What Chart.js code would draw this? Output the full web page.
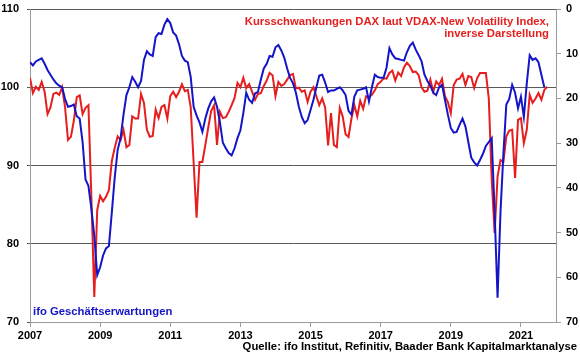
<!DOCTYPE html>
<html>
<head>
<meta charset="utf-8">
<script src="https://cdn.jsdelivr.net/npm/chart.js@4"></script>
<style>
  html, body { margin: 0; padding: 0; background: #fff; }
  #wrap { width: 580px; height: 359px; }
</style>
</head>
<body>
<div id="wrap"><canvas id="chart" width="580" height="359"></canvas></div>
<script>
// monthly values, first entry = Jan 2007
const START_YEAR = 2007;
const END_MONTH = 180; // Jan 2022, right edge of the plot

// ifo Geschaeftserwartungen (left axis)
const ifoValues = [
  103.2, 102.8, 103.3, 103.5, 103.7, 103.0, 102.2, 101.6, 101.0, 100.5, 100.2, 100.0,
  98.5, 97.5, 97.6, 97.8, 96.3, 96.0, 93.0, 88.2, 87.4, 84.5, 81.0, 76.0,
  77.0, 78.5, 79.4, 79.7, 84.0, 88.5, 92.0, 93.5, 96.5, 99.0, 100.0, 101.3,
  100.7, 100.0, 100.8, 103.5, 104.6, 104.2, 104.0, 106.4, 106.9, 106.8, 108.0, 108.7,
  108.2, 107.0, 106.6, 105.5, 104.0, 103.4, 103.2, 101.3, 97.5, 96.4, 95.5, 94.3,
  96.0, 97.3, 98.2, 98.7, 97.5, 95.5, 92.9, 92.2, 91.6, 91.3, 92.2, 93.5,
  94.5, 96.7, 99.3, 98.4, 98.0, 99.2, 99.4, 101.0, 102.4, 103.0, 104.0, 103.9,
  105.1, 105.4, 104.7, 103.8, 102.4, 101.2, 100.5, 99.3, 97.5, 96.2, 95.4, 95.8,
  97.1, 98.4, 100.0, 101.5, 101.6, 100.6, 99.4, 99.6, 99.6, 99.8, 100.0, 99.6,
  99.0, 97.0, 96.5, 98.8, 99.6, 99.7, 99.8, 100.0, 98.2, 100.0, 101.6, 101.3,
  101.2, 101.2, 102.5, 105.0, 104.2, 103.7, 103.6, 103.5, 103.4, 104.5, 105.3, 105.7,
  104.8, 104.1, 103.3, 101.6, 100.8, 100.2, 99.3, 99.0, 100.0, 100.3, 98.4, 96.5,
  94.8, 94.2, 94.3, 95.2, 96.0, 95.0, 93.0, 91.0, 90.4, 90.0, 90.7, 91.5,
  92.5, 93.0, 93.5, 84.0, 73.1, 84.0, 91.5, 97.8, 98.5, 100.3, 99.3, 97.3,
  98.8, 96.2, 100.5, 104.1, 103.5, 103.7, 103.2, 101.6, 100.0
];

// VDAX-New (right axis, reversed)
const vdaxValues = [
  15.4, 18.8, 17.4, 18.1, 16.3, 18.5, 23.5, 22.0, 19.0, 18.7, 19.2, 17.5,
  22.0, 29.3, 28.6, 25.0, 19.7, 19.3, 23.5, 22.1, 21.5, 42.0, 64.4, 45.0,
  41.8, 43.0, 42.0, 40.5, 34.0, 31.0, 28.5, 29.3, 27.0, 30.9, 30.4, 24.0,
  24.5, 24.5, 19.0, 21.0, 27.0, 28.6, 28.4, 22.5, 24.4, 21.9, 21.5, 24.5,
  19.5, 18.5, 19.7, 18.5, 16.8, 18.4, 18.1, 22.0, 34.4, 46.7, 34.2, 34.2,
  30.4, 26.5, 22.8, 21.5, 30.4, 23.0, 24.4, 24.2, 23.0, 21.5, 19.9, 16.5,
  17.5, 15.4, 17.7, 16.8, 18.5, 20.3, 19.0, 18.8, 17.2, 16.0, 14.3, 14.8,
  19.5, 16.3, 17.2, 16.8, 15.8, 14.8, 14.5, 17.8, 17.6, 18.5, 18.2, 20.8,
  18.5, 17.5, 19.5, 21.5, 20.0, 22.0, 30.5, 23.3, 30.4, 30.9, 22.1, 24.0,
  28.0, 28.6, 24.5, 21.5, 24.0, 20.5, 22.3, 19.5, 19.7, 19.2, 18.2, 16.8,
  16.3, 15.5, 15.6, 14.3, 13.8, 16.0, 14.2, 15.0, 13.0, 12.0, 12.8, 14.1,
  14.0, 14.8, 17.5, 18.5, 18.3, 15.8, 18.5, 16.2, 17.0, 15.6, 19.5, 20.8,
  23.3, 17.0, 15.8, 15.6, 14.5, 17.0, 15.0, 15.2, 17.7, 15.5, 14.3, 14.3,
  14.3, 20.0, 38.2, 50.1, 37.5, 33.8, 34.2, 28.5, 27.2, 27.0, 37.8, 24.8,
  24.4, 30.0, 27.0, 19.2, 21.0, 20.0, 18.8, 20.3, 18.1, 17.4
];

const yearTicks = [2007, 2009, 2011, 2013, 2015, 2017, 2019, 2021];
const leftTicks = [70, 80, 90, 100, 110];
const rightTicks = [0, 10, 20, 30, 40, 50, 60, 70];

const BLUE = '#1414c8';
const RED = '#e61e1e';
const GRID = '#5a5a5a';
const AXIS = '#9a9a9a';
const FONT = 'Liberation Sans, Arial, sans-serif';

const toPoints = values => values.map((v, i) => ({ x: i, y: v }));

// fixed box sizes so the plot area lands where the original has it
const fixBox = (w, h) => s => {
  if (w != null) s.width = w;
  if (h != null) s.height = h;
  s.paddingTop = 0;
  s.paddingBottom = 0;
  s.paddingLeft = 0;
  s.paddingRight = 0;
};

// texts that sit inside and under the plot
const annotations = {
  id: 'annotations',
  afterDraw(chart) {
    const { ctx, chartArea } = chart;
    ctx.save();
    ctx.font = 'bold 11.3px ' + FONT;
    ctx.textBaseline = 'middle';

    ctx.fillStyle = RED;
    ctx.textAlign = 'right';
    ctx.fillText('Kursschwankungen DAX laut VDAX-New Volatility Index,', chartArea.right - 7, 22);
    ctx.fillText('inverse Darstellung', chartArea.right - 7, 34);

    ctx.fillStyle = BLUE;
    ctx.textAlign = 'left';
    ctx.fillText('ifo Geschäftserwartungen', chartArea.left + 3, 312);

    ctx.fillStyle = '#000';
    ctx.textAlign = 'right';
    ctx.fillText('Quelle: ifo Institut, Refinitiv, Baader Bank Kapitalmarktanalyse', 577, 347);
    ctx.restore();
  }
};

const ctx = document.querySelector('#chart').getContext('2d');
new Chart(ctx, {
  type: 'line',
  data: {
    datasets: [
      {
        label: 'ifo Geschäftserwartungen',
        data: toPoints(ifoValues),
        yAxisID: 'y',
        borderColor: BLUE,
        borderWidth: 2,
        pointRadius: 0,
        tension: 0,
      },
      {
        label: 'VDAX-New, invers',
        data: toPoints(vdaxValues),
        yAxisID: 'y2',
        borderColor: RED,
        borderWidth: 2,
        pointRadius: 0,
        tension: 0,
      },
    ],
  },
  options: {
    responsive: false,
    animation: false,
    layout: { padding: { top: 9, left: 0, right: 0, bottom: 0 } },
    plugins: {
      legend: { display: false },
      tooltip: { enabled: false },
    },
    scales: {
      x: {
        type: 'linear',
        min: 0,
        max: END_MONTH,
        afterFit: fixBox(null, 37),
        afterBuildTicks: s => {
          s.ticks = yearTicks.map(yr => ({ value: (yr - START_YEAR) * 12 }));
        },
        grid: { drawOnChartArea: false, drawTicks: true, tickLength: 5, color: AXIS },
        border: { color: AXIS, width: 1 },
        ticks: {
          padding: 2,
          color: '#000',
          maxRotation: 0,
          autoSkip: false,
          font: { family: FONT, size: 11, weight: 'bold' },
          callback: v => String(START_YEAR + v / 12),
        },
      },
      y: {
        position: 'left',
        min: 70,
        max: 110,
        afterFit: fixBox(30, null),
        afterBuildTicks: s => { s.ticks = leftTicks.map(v => ({ value: v })); },
        grid: { color: GRID, tickLength: 3, lineWidth: 1 },
        border: { color: AXIS, width: 1 },
        ticks: {
          padding: 8,
          color: '#000',
          font: { family: FONT, size: 11, weight: 'bold' },
        },
      },
      y2: {
        position: 'right',
        reverse: true,
        min: 0,
        max: 70,
        afterFit: fixBox(24, null),
        afterBuildTicks: s => { s.ticks = rightTicks.map(v => ({ value: v })); },
        grid: { drawOnChartArea: false, tickLength: 5, color: AXIS },
        border: { color: AXIS, width: 1 },
        ticks: {
          padding: 5,
          color: '#000',
          font: { family: FONT, size: 11, weight: 'bold' },
        },
      },
    },
  },
  plugins: [annotations],
});
</script>
</body>
</html>
